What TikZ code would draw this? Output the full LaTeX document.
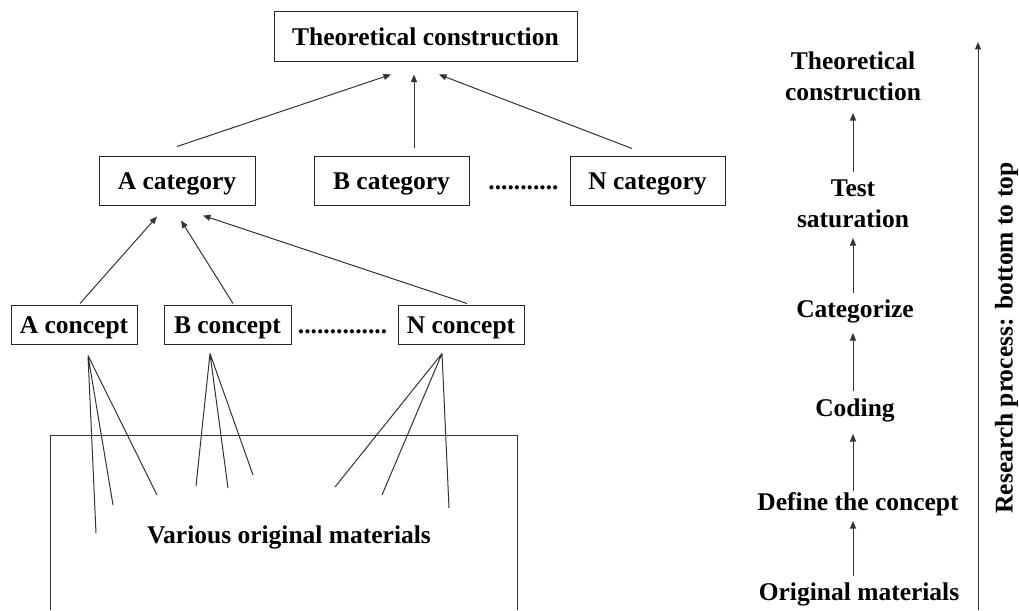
\documentclass[tikz,border=0pt]{standalone}
\usepackage{fontspec}
\setmainfont{Liberation Serif}
\usetikzlibrary{arrows.meta,calc}
\begin{document}
\begin{tikzpicture}[x=1pt,y=-1pt,
  txt/.style={font=\fontsize{25.5}{31}\selectfont\bfseries, inner sep=0pt},
  line/.style={text height=17pt, text depth=0pt},
  box/.style={txt, line, draw=black!85, line width=1pt, rectangle},
  link/.style={draw=black!80, line width=1pt},
  arr/.style={link, -{Triangle[length=7.5pt,width=6pt]}}]
\useasboundingbox (0,0) rectangle (1019,610);

% hierarchy boxes
\node[box, minimum width=303pt, minimum height=50pt] (top) at (425.5,37) {Theoretical construction};
\node[box, minimum width=156pt, minimum height=49pt] (acat) at (177,180.5) {A category};
\node[box, minimum width=155pt, minimum height=49pt] (bcat) at (391.5,180.5) {B category};
\node[box, minimum width=155pt, minimum height=49pt] (ncat) at (647.5,180.5) {N category};
\node[txt, line] (catdots) at (523.5,180.5) {...........};
\node[box, minimum width=126pt, minimum height=39pt] (acon) at (74,324.5) {A concept};
\node[box, minimum width=127pt, minimum height=39pt] (bcon) at (227.5,324.5) {B concept};
\node[box, minimum width=126pt, minimum height=39pt] (ncon) at (461,324.5) {N concept};
\node[txt, line] (condots) at (342.5,324.5) {..............};

% categories to theory
\draw[arr] ($(acat.north)+(0,-9)$) -- ($(top.south)+(-34.5,12)$);
\draw[arr] ($(bcat.north)+(22.5,-8)$) -- ($(top.south)+(-11.5,12)$);
\draw[arr] ($(ncat.north)+(-15.5,-7)$) -- ($(top.south)+(13.5,12)$);

% concepts to category
\draw[arr] ($(acon.north)+(6,-1)$) -- ($(acat.south)+(-20,11)$);
\draw[arr] ($(bcon.north)+(5.5,-1)$) -- ($(acat.south)+(4,15)$);
\draw[arr] ($(ncon.north)+(6,-1)$) -- ($(acat.south)+(26,10)$);

% raw material area
\draw[link] (50,610) |- (517,435) -- (517,610);
\node[txt, line] (mat) at (289,535) {Various original materials};

% concepts drawn from the materials
\coordinate (ao) at ($(acon.south)+(14,11)$);
\coordinate (bo) at ($(bcon.south)+(-17.5,9)$);
\coordinate (no) at ($(ncon.south)+(-19,9)$);
\coordinate (a1) at (96,533);  \coordinate (a2) at (113,505); \coordinate (a3) at (157,495);
\coordinate (b1) at (196,486); \coordinate (b2) at (228,488); \coordinate (b3) at (253,475);
\coordinate (n1) at (335,487); \coordinate (n2) at (382,495); \coordinate (n3) at (449,508);
\draw[link] (ao) -- (a1) (ao) -- (a2) (ao) -- (a3);
\draw[link] (bo) -- (b1) (bo) -- (b2) (bo) -- (b3);
\draw[link] (no) -- (n1) (no) -- (n2) (no) -- (n3);

% research steps
\node[txt, line] (r1) at (859,592) {Original materials};
\node[txt, line] (r2) at (858,502) {Define the concept};
\node[txt, line] (r3) at (855,408) {Coding};
\node[txt, line] (r4) at (855,309) {Categorize};
\node[txt, align=center] (r5) at (853,204) {Test\\saturation};
\node[txt, align=center] (r6) at (853,76) {Theoretical\\construction};
\draw[arr] ($(r1)+(-6,-16)$) -- ($(r2)+(-5,19)$);
\draw[arr] ($(r2)+(-5,-11)$) -- ($(r3)+(-2,26)$);
\draw[arr] ($(r3)+(-2,-17)$) -- ($(r4)+(-2,24)$);
\draw[arr] ($(r4)+(-2,-16)$) -- ($(r5)+(0,34)$);
\draw[arr] ($(r5)+(0,-32)$) -- ($(r6)+(0,37)$);

% direction of the process
\coordinate (pbot) at (978,610);
\coordinate (ptop) at (978,42);
\draw[arr] (pbot) -- (ptop);
\node[txt, line, rotate=90] (proc) at (1004,338) {Research process: bottom to top};
\end{tikzpicture}
\end{document}
